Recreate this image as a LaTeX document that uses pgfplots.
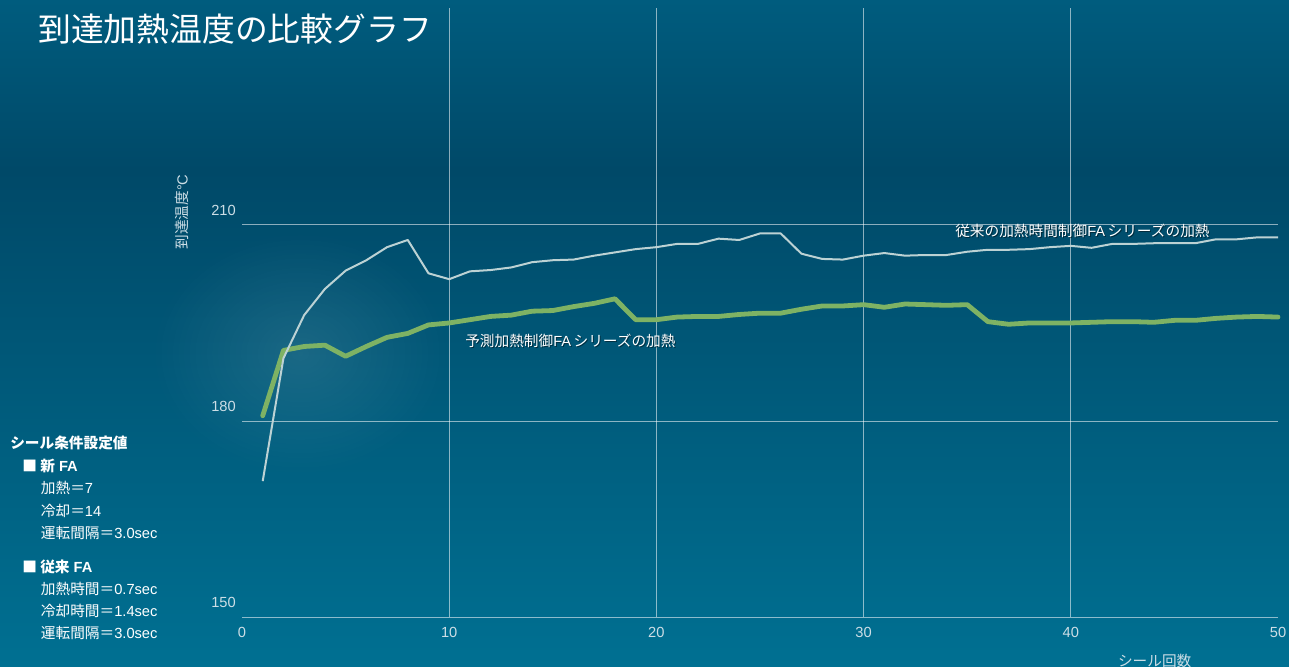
\documentclass[border=0pt]{standalone}
\usepackage{pgfplots}
\pgfplotsset{compat=1.18}
\usepackage{fontspec}
\setmainfont{Noto Sans CJK JP}
\newfontfamily\lat{Liberation Sans}
\usetikzlibrary{fadings}
\definecolor{bgtop}{RGB}{0,92,126}
\definecolor{bgmid}{RGB}{0,73,104}
\definecolor{bgbot}{RGB}{0,112,146}
\definecolor{grayline}{RGB}{188,210,212}
\definecolor{greenline}{RGB}{126,178,100}
\definecolor{ticktxt}{RGB}{205,222,230}
\tikzfading[name=glowfade, inner color=transparent!0, outer color=transparent!100]
\begin{document}
\begin{tikzpicture}
\path[use as bounding box] (0,0) rectangle (966.75pt,-500.25pt);
\shade[top color=bgtop, bottom color=bgmid] (0,0) rectangle (966.75pt,-127.5pt);
\shade[top color=bgmid, bottom color=bgbot] (0,-127.5pt) rectangle (966.75pt,-500.25pt);
\fill[white, opacity=0.10, path fading=glowfade] (225pt,-265pt) ellipse (110pt and 90pt);
\begin{axis}[
  at={(181.5pt,-462.75pt)}, anchor=south west,
  scale only axis, width=777pt, height=456.75pt,
  xmin=0, xmax=50, ymin=150, ymax=243.2,
  axis line style={draw=none},
  xtick={10,20,30,40}, extra x ticks={0,50}, extra x tick style={grid=none},
  ytick={150,180,210},
  xmajorgrids, ymajorgrids,
  grid style={white, opacity=0.55, line width=0.7pt},
  major tick length=0pt,
  /pgf/number format/assume math mode=true,
  ticklabel style={font=\lat\fontsize{11}{13}\selectfont, text=ticktxt},
  xticklabel style={anchor=north, inner sep=0pt, yshift=-7.5pt},
  yticklabel style={anchor=east, inner sep=0pt, xshift=-4.5pt, yshift=11pt},
  clip=false,
]
\addplot[greenline, line width=3.6pt, line join=round, line cap=round] coordinates {
(1,180.8)(2,190.8)(3,191.4)(4,191.6)(5,189.9)(6,191.4)(7,192.8)(8,193.4)(9,194.7)(10,195.0)
(11,195.5)(12,196.0)(13,196.2)(14,196.8)(15,196.9)(16,197.5)(17,198.0)(18,198.7)(19,195.5)(20,195.5)
(21,195.9)(22,196.0)(23,196.0)(24,196.3)(25,196.5)(26,196.5)(27,197.1)(28,197.6)(29,197.6)(30,197.8)
(31,197.4)(32,197.9)(33,197.8)(34,197.7)(35,197.8)(36,195.2)(37,194.8)(38,195.0)(39,195.0)(40,195.0)
(41,195.1)(42,195.2)(43,195.2)(44,195.1)(45,195.4)(46,195.4)(47,195.7)(48,195.9)(49,196.0)(50,195.9)
};
\addplot[grayline, line width=1.5pt, line join=round] coordinates {
(1,170.8)(2,189.6)(3,196.2)(4,200.2)(5,203.0)(6,204.6)(7,206.6)(8,207.7)(9,202.6)(10,201.7)
(11,202.9)(12,203.1)(13,203.5)(14,204.3)(15,204.6)(16,204.7)(17,205.3)(18,205.8)(19,206.3)(20,206.6)
(21,207.1)(22,207.1)(23,207.9)(24,207.7)(25,208.7)(26,208.7)(27,205.6)(28,204.8)(29,204.7)(30,205.3)
(31,205.7)(32,205.3)(33,205.4)(34,205.4)(35,205.9)(36,206.2)(37,206.2)(38,206.3)(39,206.6)(40,206.8)
(41,206.5)(42,207.1)(43,207.1)(44,207.2)(45,207.2)(46,207.2)(47,207.8)(48,207.8)(49,208.1)(50,208.1)
};
\end{axis}
% title
\node[anchor=west, text=white, inner sep=0pt, font=\fontsize{24.6}{28}\selectfont] at (28.5pt,-21.5pt) {到達加熱温度の比較グラフ};
% axis labels
\node[rotate=90, text=ticktxt, inner sep=0pt, font=\fontsize{11}{13}\selectfont] at (136.5pt,-159pt) {到達温度{\lat °C}};
\node[text=ticktxt, inner sep=0pt, font=\fontsize{11}{13}\selectfont] at (866pt,-495.5pt) {シール回数};
% series labels with shadow
\node[anchor=west, text=black, opacity=0.45, inner sep=0pt, font=\fontsize{11}{13}\selectfont] at (349.5pt,-256.5pt) {予測加熱制御{\lat FA\,}シリーズの加熱};
\node[anchor=west, text=white, inner sep=0pt, font=\fontsize{11}{13}\selectfont] at (348.75pt,-255.75pt) {予測加熱制御{\lat FA\,}シリーズの加熱};
\node[anchor=west, text=black, opacity=0.45, inner sep=0pt, font=\fontsize{11}{13}\selectfont] at (717pt,-173.75pt) {従来の加熱時間制御{\lat FA\,}シリーズの加熱};
\node[anchor=west, text=white, inner sep=0pt, font=\fontsize{11}{13}\selectfont] at (716.25pt,-173pt) {従来の加熱時間制御{\lat FA\,}シリーズの加熱};
% left panel
\begin{scope}[every node/.style={anchor=west, text=white, inner sep=0pt, font=\fontsize{11}{13}\selectfont}]
\node[font=\fontsize{11}{13}\selectfont\bfseries] at (7.5pt,-332pt) {シール条件設定値};
\node[font=\fontsize{11}{13}\selectfont\bfseries] at (16.5pt,-349.25pt) {■ 新{\lat\bfseries\ FA}};
\node at (30.5pt,-366.25pt) {加熱＝{\lat 7}};
\node at (30.5pt,-383pt) {冷却＝{\lat 14}};
\node at (30.5pt,-400pt) {運転間隔＝{\lat 3.0sec}};
\node[font=\fontsize{11}{13}\selectfont\bfseries] at (16.5pt,-425pt) {■ 従来{\lat\bfseries\ FA}};
\node at (30.5pt,-442pt) {加熱時間＝{\lat 0.7sec}};
\node at (30.5pt,-458pt) {冷却時間＝{\lat 1.4sec}};
\node at (30.5pt,-475pt) {運転間隔＝{\lat 3.0sec}};
\end{scope}
\end{tikzpicture}
\end{document}
